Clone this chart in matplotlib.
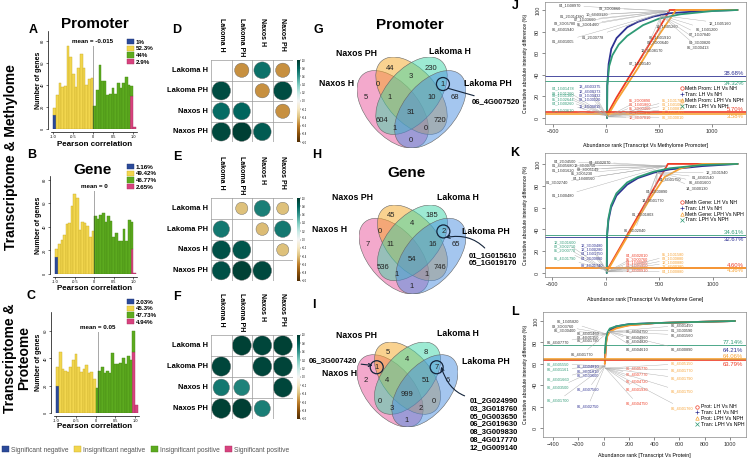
import numpy as np
import matplotlib
matplotlib.use("Agg")
import matplotlib.pyplot as plt
from matplotlib.patches import Ellipse, Circle, Patch
from matplotlib.lines import Line2D
from matplotlib.colors import Normalize

plt.rcParams['font.family'] = ['Liberation Sans', 'DejaVu Sans']

W, H = 747, 458

# ---------------- histograms (31 bins of 1/15 from -1) ----------------
cat_names = ['Significant negative', 'Insignificant negative', 'Insignificant positive', 'Significant positive']
cat_colors = ['#2b4a9a', '#f2d64e', '#5caa1f', '#d8427f']
cat_edges = ['#1d3370', '#c9ad2a', '#468a14', '#a8305f']

prom_sig_neg = [13] + [0] * 30
prom_insig_neg = [6, 31, 42, 38, 39, 75, 65, 50, 38, 55, 68, 55, 40, 45, 46] + [0] * 16
prom_insig_pos = [0] * 15 + [21, 35, 58, 44, 44, 31, 32, 37, 32, 42, 37, 42, 47, 40, 9, 0]
prom_sig_pos = [0] * 29 + [30, 2]
prom_pcts = ['1%', '52.3%', '44%', '2.9%']

gene_sig_neg = [14] + [0] * 30
gene_insig_neg = [7, 25, 29, 33, 42, 43, 58, 68, 64, 37, 44, 43, 41, 31, 36] + [0] * 16
gene_insig_pos = [0] * 15 + [49, 47, 50, 52, 44, 49, 45, 31, 35, 28, 28, 38, 28, 46, 23, 0]
gene_sig_pos = [0] * 29 + [21, 1]
gene_pcts = ['1.16%', '49.42%', '46.77%', '2.65%']

prot_sig_neg = [20] + [0] * 30
prot_insig_neg = [14, 45, 32, 31, 30, 34, 39, 43, 34, 30, 32, 35, 29, 30, 25] + [0] * 16
prot_insig_pos = [0] * 15 + [18, 31, 34, 29, 31, 29, 44, 36, 36, 37, 40, 36, 42, 39, 15, 0]
prot_sig_pos = [0] * 29 + [45, 6]
prot_pcts = ['2.03%', '45.3%', '47.73%', '4.94%']

means = [-0.015, 0, 0.05]
mean_labels = ['mean = -0.015', 'mean = 0', 'mean = 0.05']

# ---------------- correlation matrices ----------------
corr_labels = ['Lakoma H', 'Lakoma PH', 'Naxos H', 'Naxos PH']
nan = np.nan
corr_prom = [[nan, -0.55, 0.75, -0.55], [0.92, nan, -0.55, 0.92],
             [0.78, 0.8, nan, -0.55], [0.93, 0.98, 0.85, nan]]
corr_gene = [[nan, -0.4, 0.7, -0.4], [0.72, nan, -0.42, 0.72],
             [0.9, 0.88, nan, -0.4], [0.9, 0.97, 0.93, nan]]
corr_prot = [[nan, 0.97, 0.95, 0.97], [0.95, nan, 0.95, 0.96],
             [0.72, 0.68, nan, 0.95], [0.97, 0.98, 0.7, nan]]

# ---------------- venn counts ----------------
venn_sets = ['Naxos H', 'Naxos PH', 'Lakoma H', 'Lakoma PH']
venn_prom = [44, 230, 3, 0, 1, 5, 1, 10, 68, 31, 604, 720, 1, 0, 0]
venn_gene = [45, 185, 4, 0, 2, 7, 11, 16, 65, 54, 536, 746, 1, 1, 1]
venn_prot = [5, 8, 4, 1, 7, 2, 4, 51, 6, 999, 0, 0, 3, 2, 1]
prom_hit = ['06_4G007520']
gene_hit = ['01_1G015610', '05_1G019170']
prot_hit_left = ['06_3G007420']
prot_hit_right = ['01_2G024990', '03_3G018760', '05_0G003650', '06_2G019630',
                  '08_3G009830', '08_4G017770', '12_0G009140']

# ---------------- cumulative curves ----------------
j_rank_a = [10, 100, 200, 300, 400, 500, 600, 1240]
j_pct_a = [3, 19, 35, 51, 67, 83, 100, 100]
j_rank_b = [10, 12, 25, 50, 100, 200, 300, 450, 600, 900, 1240]
j_pct_b = [0, 30, 50, 64, 74, 84, 89, 94, 97, 99, 100]
j_rank_c = [10, 100, 200, 300, 400, 500, 660, 1240]
j_pct_c = [1, 16, 31, 46, 62, 77, 100, 100]
j_rank_d = [10, 12, 30, 60, 120, 200, 350, 500, 700, 1000, 1240]
j_pct_d = [0, 30, 48, 58, 68, 76, 86, 92, 96, 99, 100]
j_hlines = [5.70, 38.68, 3.58, 34.32]

k_rank_a = [10, 580, 1230]
k_pct_a = [2, 100, 100]
k_rank_b = [10, 12, 25, 50, 100, 200, 300, 450, 600, 900, 1230]
k_pct_b = [0, 33, 48, 60, 71, 81, 87, 92, 95, 98, 100]
k_rank_c = [10, 200, 400, 550, 700, 900, 1230]
k_pct_c = [1, 33, 66, 88, 96, 100, 100]
k_rank_d = [10, 12, 25, 50, 100, 200, 300, 450, 600, 900, 1230]
k_pct_d = [0, 35, 50, 62, 73, 83, 88, 93, 96, 99, 100]
k_hlines = [4.60, 32.67, 4.36, 34.61]

l_rank_a = [10, 20, 30, 50, 100, 200, 400, 700, 1040]
l_pct_a = [60, 80, 87, 91, 94, 96, 98, 99, 100]
l_rank_b = [10, 20, 30, 50, 100, 200, 400, 700, 1040]
l_pct_b = [62, 82, 88, 92, 95, 97, 98, 99, 100]
l_rank_c = [10, 20, 30, 50, 100, 200, 400, 700, 1040]
l_pct_c = [60, 79, 86, 90, 93, 96, 98, 99, 100]
l_rank_d = [10, 20, 30, 50, 100, 200, 400, 700, 1040]
l_pct_d = [70, 84, 89, 93, 95, 97, 98, 99, 100]
l_hlines = [63.79, 64.21, 64.06, 77.14]

j_legend = ['Meth Prom: LH Vs NH', 'Tran: LH Vs NH', 'Meth Prom: LPH Vs NPH', 'Tran: LPH Vs NPH']
k_legend = ['Meth Gene: LH Vs NH', 'Tran: LH Vs NH', 'Meth Gene: LPH Vs NPH', 'Tran: LPH Vs NPH']
l_legend = ['Prot: LH Vs NH', 'Tran: LH Vs NH', 'Prot: LPH Vs NPH', 'Tran: LPH Vs NPH']

# gene ids shown on the cumulative plots
j_ids_top = ['04_1G08970', '03_3G00860', '10_6G03120', '01_2G014380', '07_1G03660',
             '03_3G05780', '05_3G01460', '06_4G01940', '01_2G00778', '01_4G01005']
j_ids_right = ['14_1G05260', '12_1G05160', '06_1G01200', '07_1G07840', '06_1G01910',
               '04_3G00820', '03_3G00640', '06_3G00413', '12_3G08170', '07_1G00140']
j_ids_teal = ['04_1G01478', '09_1G01260', '09_1G01360', '05_1G02644', '04_1G00260', '07_1G03610']
j_ids_navy = ['13_4G03375', '12_4G00373', '08_1G00432', '08_1G00520', '11_4G00815']
j_ids_red = ['05_2G00890', '01_1G01860', '05_3G00460', '01_1G00070', '12_3G07010']
j_ids_orange = ['05_1G01783', '01_1G01002', '12_1G00810', '01_1G01400', '06_3G00010']

k_ids_top = ['04_2G04500', '04_4G02070', '13_3G00750', '01_4G05680', '01_1G01620',
             '08_3G05149', '05_3G05230', '04_1G00560', '01_3G02740', '01_1G00480']
k_ids_right = ['12_3G01940', '01_4G01540', '04_4G01750', '06_4G01600', '14_3G00130',
               '04_2G00890', '14_3G01770', '01_3G01803', '06_3G02040']
k_ids_teal = ['12_3G01600', '02_3G02710', '05_2G00770', '05_4G01790']
k_ids_navy = ['12_3G00480', '12_1G00280', '04_1G01750', '04_3G00900', '09_4G01740']
k_ids_red = ['04_4G02010', '05_3G00760', '04_1G00800', '04_1G01950', '12_4G00910']
k_ids_orange = ['05_1G01580', '03_1G00880', '12_1G00880', '12_4G00380', '04_1G00880']

l_ids_top = ['06_1G05820', '08_3G03760', '06_3G00400', '06_4G01460', '08_4G01350',
             '06_4G01790', '06_4G07770', '06_4G01770']
l_ids_right = ['06_4G04750', '06_4G04960', '06_4G04820', '06_4G04610',
               '06_4G01490', '01_3G00590', '06_4G01560', '06_4G00890']
l_ids_teal = ['06_4G05550', '06_4G01161', '06_4G01660', '06_4G03500', '06_4G01700']
l_ids_navy = ['06_4G04810', '06_3G01810', '06_3G03600', '06_4G07560', '06_4G02750']
l_ids_red = ['06_4G05770', '06_4G07770', '06_4G04720', '06_4G01930', '06_4G04750']
l_ids_orange = ['06_4G05150', '06_4G01770', '06_4G01790', '06_4G01750', '06_4G01760']


def fr(l, t, r, b):
    return [l / W, 1 - b / H, (r - l) / W, (b - t) / H]


def fp(x, y):
    return (x / W, 1 - y / H)


fig = plt.figure(figsize=(W / 100, H / 100), dpi=100)

# ---------- big row labels ----------
fig.text(*fp(11, 157), 'Transcriptome & Methylome', rotation=90, ha='center', va='center',
         fontsize=10, weight='bold')
fig.text(*fp(17, 358), 'Transcriptome &\nProteome', rotation=90, ha='center', va='center',
         fontsize=10, weight='bold', linespacing=1.0)

# ---------- histograms ----------
hist_boxes = [(51, 31, 137, 129), (53, 176, 137, 274), (54, 312, 139, 413)]
hist_data = [(prom_sig_neg, prom_insig_neg, prom_insig_pos, prom_sig_pos),
             (gene_sig_neg, gene_insig_neg, gene_insig_pos, gene_sig_pos),
             (prot_sig_neg, prot_insig_neg, prot_insig_pos, prot_sig_pos)]
hist_ymax = [89, 83, 74]
hist_meantop = [75, 70, 59]
hist_pcts = [prom_pcts, gene_pcts, prot_pcts]
hist_leg_xy = [(127, 39), (127, 164), (127, 299)]
hist_titles = [('Promoter', 95, 24), ('Gene', 93, 170), ('', 0, 0)]
hist_xlab_y = [145, 289, 427]
bin_left = -1 + np.arange(31) / 15

for box, stacks, ymax, mtop, m, mlab, pcts, lxy, (ttl, tx, ty), xly in zip(
        hist_boxes, hist_data, hist_ymax, hist_meantop, means, mean_labels,
        hist_pcts, hist_leg_xy, hist_titles, hist_xlab_y):
    ax = fig.add_axes(fr(*box))
    bottom = np.zeros(31)
    for k in [0, 1, 3, 2]:
        vals = np.array(stacks[k], float)
        ok = vals > 0
        ax.bar(bin_left[ok], vals[ok], width=1 / 15, align='edge', bottom=bottom[ok],
               color=cat_colors[k], edgecolor=cat_edges[k], linewidth=0.3)
        bottom += vals
    ax.set_xlim(-1.06, 1.1)
    ax.set_ylim(0, ymax)
    ax.plot([m, m], [0, mtop], ls=(0, (1.2, 1.2)), color='#333333', lw=0.6)
    ax.text(m, mtop + 2, mlab, ha='center', va='bottom', fontsize=4.5, weight='bold')
    for s in ['top', 'right']:
        ax.spines[s].set_visible(False)
    for s in ['left', 'bottom']:
        ax.spines[s].set_linewidth(0.5)
        ax.spines[s].set_position(('outward', 2))
    ax.set_xticks([-1, -0.5, 0, 0.5, 1])
    ax.set_xticklabels(['-1.0', '-0.5', '0', '0.5', '1.0'])
    ax.set_yticks([0, 20, 40, 60, 80] if ymax > 80 else [0, 20, 40, 60])
    ax.tick_params(labelsize=2.8, length=1.5, width=0.4, pad=1)
    for t in ax.get_yticklabels():
        t.set_rotation(90)
        t.set_va('center')
    handles = [Patch(fc=c, ec=e, lw=0.3) for c, e in zip(cat_colors, cat_edges)]
    fig.legend(handles, pcts, loc='upper left', bbox_to_anchor=fp(*lxy), frameon=False,
               prop={'size': 4.5, 'weight': 'bold'}, handlelength=1.1, handleheight=0.9,
               handletextpad=0.3, labelspacing=0.15, borderaxespad=0, borderpad=0)
    if ttl:
        fig.text(*fp(tx, ty), ttl, ha='center', va='center', fontsize=11, weight='bold')
    fig.text(*fp(95, xly), 'Pearson correlation', ha='center', va='center', fontsize=5.8, weight='bold')
    fig.text(*fp(38, (box[1] + box[3]) / 2), 'Number of genes', rotation=90, ha='center',
             va='center', fontsize=5, weight='bold')

fig.legend([Patch(fc=c, ec=e, lw=0.3) for c, e in zip(cat_colors, cat_edges)], cat_names,
           loc='center left', bbox_to_anchor=fp(2, 450), ncol=4, frameon=False, fontsize=4.8,
           handlelength=1.0, handleheight=0.9, handletextpad=0.3, columnspacing=0.9,
           labelcolor='#555555', borderaxespad=0, borderpad=0)

# ---------- correlation matrices ----------
cmap = plt.get_cmap('BrBG')
norm = Normalize(-1, 1)
corr_boxes = [(211, 60, 293, 142), (211, 198, 293, 281), (211, 335, 293, 419)]
for box, mat in zip(corr_boxes, [corr_prom, corr_gene, corr_prot]):
    ax = fig.add_axes(fr(*box))
    ax.set_xlim(0, 4)
    ax.set_ylim(4, 0)
    ax.axis('off')
    for i in range(5):
        ax.plot([0, 4], [i, i], color='#9a9a9a', lw=0.5)
        ax.plot([i, i], [0, 4], color='#9a9a9a', lw=0.5)
    for i in range(4):
        for j in range(4):
            v = mat[i][j]
            if np.isnan(v):
                continue
            ax.add_patch(Circle((j + 0.5, i + 0.5), 0.47 * np.sqrt(abs(v)),
                                fc=cmap(norm(v)), ec='#666666', lw=0.3))
    l, t, r, b = box
    cell = (r - l) / 4
    for i, name in enumerate(corr_labels):
        fig.text(*fp(l - 3, t + (i + 0.5) * (b - t) / 4), name, ha='right', va='center',
                 fontsize=5.4, weight='bold')
        fig.text(*fp(l + (i + 0.5) * cell, t - 42), name, ha='center', va='top',
                 rotation=-90, fontsize=5.0, weight='bold')
    cax = fig.add_axes(fr(r + 4, t, r + 7, b))
    cax.imshow(np.linspace(1, -1, 100)[:, None], cmap=cmap, norm=norm, aspect='auto',
               extent=[0, 1, -1, 1])
    cax.set_xticks([])
    cax.yaxis.tick_right()
    cax.set_yticks(np.round(np.arange(-1, 1.01, 0.2), 1))
    cax.tick_params(labelsize=1.8, length=1, width=0.3, pad=0.5)
    for s in cax.spines.values():
        s.set_visible(False)

# ---------- venn diagrams ----------
venn_pos = [(0.328, 0.774), (0.658, 0.774), (0.493, 0.715), (0.235, 0.656), (0.751, 0.656),
            (0.137, 0.555), (0.323, 0.555), (0.663, 0.555), (0.849, 0.555), (0.493, 0.445),
            (0.262, 0.386), (0.724, 0.386), (0.368, 0.330), (0.618, 0.330), (0.493, 0.239)]
venn_shapes = [((0.35, 0.47), -45), ((0.5, 0.57), -45), ((0.5, 0.57), 45), ((0.65, 0.47), 45)]
venn_colors = ['#e8559a', '#f5a623', '#3cd6a8', '#4a8ee0']
venn_boxes = [(357, 57, 466, 148), (359, 205, 466, 294), (357, 342, 458, 427)]
venn_label_xy = [
    [(337, 83), (357, 54), (450, 51), (488, 83)],
    [(330, 230), (353, 198), (458, 198), (486, 232)],
    [(340, 373), (357, 335), (458, 334), (486, 362)],
]
venn_axes = []
for box, counts, labs, circled in zip(venn_boxes, [venn_prom, venn_gene, venn_prot],
                                      venn_label_xy, [[4], [4], [3, 4]]):
    ax = fig.add_axes(fr(*box))
    ax.set_xlim(0.065, 0.935)
    ax.set_ylim(0.185, 0.855)
    ax.axis('off')
    for (c, ang), col in zip(venn_shapes, venn_colors):
        ax.add_patch(Ellipse(c, 0.7, 0.4, angle=ang, fc=col, alpha=0.5, ec='none'))
        ax.add_patch(Ellipse(c, 0.7, 0.4, angle=ang, fc='none', ec='#666666', lw=0.4))
    for (x, y), n in zip(venn_pos, counts):
        ax.text(x, y, str(n), ha='center', va='center', fontsize=5.5, color='#222222')
    sx = (box[2] - box[0]) / 0.87
    sy = (box[3] - box[1]) / 0.67
    for k in circled:
        ax.add_patch(Ellipse(venn_pos[k], 13 / sx, 13 / sy, fc='none', ec='#14243a', lw=0.9))
    for name, (x, y) in zip(venn_sets, labs):
        fig.text(*fp(x, y), name, ha='center', va='center', fontsize=6.3, weight='bold')
    venn_axes.append(ax)

fig.text(*fp(410, 25), 'Promoter', ha='center', va='center', fontsize=11, weight='bold')
fig.text(*fp(407, 173), 'Gene', ha='center', va='center', fontsize=11, weight='bold')

ax = venn_axes[0]
ax.annotate(prom_hit[0], xy=(0.79, 0.625), xytext=fp(472, 102), textcoords='figure fraction',
            ha='left', va='center', fontsize=5.5, weight='bold',
            arrowprops=dict(arrowstyle='-', color='#14243a', lw=0.8, shrinkA=0, shrinkB=0))
ax = venn_axes[1]
ax.annotate('\n'.join(gene_hit), xy=(0.77, 0.61), xytext=fp(469, 259), textcoords='figure fraction',
            ha='left', va='center', fontsize=5.5, weight='bold', linespacing=1.1,
            arrowprops=dict(arrowstyle='->', color='#14243a', lw=0.8, shrinkA=1, shrinkB=0,
                            connectionstyle='arc3,rad=0.35'))
ax = venn_axes[2]
ax.annotate(prot_hit_left[0], xy=(0.2, 0.67), xytext=fp(357, 361), textcoords='figure fraction',
            ha='right', va='center', fontsize=5.5, weight='bold',
            arrowprops=dict(arrowstyle='->', color='#14243a', lw=0.8, shrinkA=1, shrinkB=0))
ax.annotate('\n'.join(prot_hit_right), xy=(0.79, 0.66), xytext=fp(470, 424), textcoords='figure fraction',
            ha='left', va='center', fontsize=5.5, weight='bold', linespacing=1.15,
            arrowprops=dict(arrowstyle='->', color='#14243a', lw=0.8, shrinkA=2, shrinkB=0,
                            connectionstyle='arc3,rad=-0.45', relpos=(0.45, 1.0)))

# ---------- cumulative difference panels ----------
c_red, c_navy, c_orange, c_teal = '#ee3b24', '#2e3192', '#f7a234', '#2f9a76'
line_colors = [c_red, c_navy, c_orange, c_teal]
markers = ['o', '+', '^', 'x']

cum_panels = [
    dict(box=(545, 2, 746, 124), xlim=(-575, 1320), ylim=(-5.6, 107.4), xticks=[-500, 0, 500, 1000],
         curves=[(j_rank_a, j_pct_a), (j_rank_b, j_pct_b), (j_rank_c, j_pct_c), (j_rank_d, j_pct_d)],
         hl=j_hlines, legend=j_legend, leg_xy=(0.67, 0.31),
         pct_y=[(5.70, 'bottom'), (38.68, 'bottom'), (3.58, 'top'), (34.32, 'top')],
         xlabel='Abundance rank [Transcript Vs Methylome Promoter]', xlab_y=145,
         groups=[
             (j_ids_top, [(-340, 104), (38, 101.5), (-85, 96), (-320, 94.5), (-200, 91),
                          (-385, 88), (-170, 87), (-400, 82), (-120, 75), (-400, 71)],
              '#333333', (590, 99)),
             (j_ids_right, [(575, 85), (1075, 88), (950, 82), (890, 77), (510, 75),
                            (890, 70), (490, 70), (870, 65), (430, 63), (320, 51)],
              '#333333', (520, 95)),
             (j_ids_teal, [(-400, 27), (-400, 23), (-400, 20.5), (-400, 17.5), (-400, 13.6), (-400, 7.4)],
              c_teal, (10, 2)),
             (j_ids_navy, [(-150, 29), (-150, 25), (-150, 21), (-150, 17), (-150, 10.5)],
              c_navy, (10, 2)),
             (j_ids_red, [(320, 16.7), (320, 13), (320, 9), (320, 5), (320, 0.6)], c_red, (10, 1)),
             (j_ids_orange, [(632, 16.7), (632, 13), (632, 9), (632, 5), (632, 0.6)], c_orange, (10, 1)),
         ]),
    dict(box=(545, 153, 746, 277), xlim=(-566, 1308), ylim=(-3.7, 110), xticks=[-500, 0, 500, 1000],
         curves=[(k_rank_a, k_pct_a), (k_rank_b, k_pct_b), (k_rank_c, k_pct_c), (k_rank_d, k_pct_d)],
         hl=k_hlines, legend=k_legend, leg_xy=(0.67, 0.62),
         pct_y=[(4.60, 'bottom'), (32.67, 'top'), (4.36, 'top'), (34.61, 'bottom')],
         xlabel='Abundance rank [Transcript Vs Methylome Gene]', xlab_y=300,
         groups=[
             (k_ids_top, [(-383, 102), (-56, 101.6), (-196, 99), (-400, 98.5), (-400, 94.5),
                          (-168, 95.4), (-224, 91.7), (-200, 86.7), (-450, 83), (-400, 70.7)],
              '#333333', (560, 98)),
             (k_ids_right, [(1040, 92), (910, 87.6), (600, 85.5), (880, 83), (850, 77.5),
                            (475, 75), (440, 67), (345, 54), (270, 39)],
              '#333333', (480, 92)),
             (k_ids_teal, [(-380, 28.4), (-380, 24), (-380, 20.6), (-380, 13.6)], c_teal, (10, 2)),
             (k_ids_navy, [(-130, 25), (-130, 22), (-130, 18), (-130, 13), (-130, 7.4)], c_navy, (10, 2)),
             (k_ids_red, [(290, 15.7), (290, 12.8), (290, 9.9), (290, 6.5), (290, 2)], c_red, (10, 1)),
             (k_ids_orange, [(630, 16.7), (630, 13), (630, 9.9), (630, 6.2), (630, 1.2)], c_orange, (10, 1)),
         ]),
    dict(box=(543, 312, 746, 437), xlim=(-479, 1127), ylim=(-8.4, 108.4),
         xticks=[-400, -200, 0, 200, 400, 600, 800, 1000],
         curves=[(l_rank_a, l_pct_a), (l_rank_b, l_pct_b), (l_rank_c, l_pct_c), (l_rank_d, l_pct_d)],
         hl=l_hlines, legend=l_legend, leg_xy=(0.75, 0.26),
         pct_y=[(59.8, 'center'), (72, 'center'), (66.6, 'center'), (78, 'bottom')],
         xlabel='Abundance rank [Transcript Vs Protein]', xlab_y=455,
         groups=[
             (l_ids_top, [(-281, 99.4), (-320, 95), (-305, 91), (-123, 88), (-123, 85),
                          (-123, 81.6), (-360, 80), (-170, 69)], '#333333', (20, 88)),
             (l_ids_right, [(264, 90), (264, 84.8), (264, 80.7), (264, 73.5),
                            (620, 96), (620, 91.6), (620, 87), (620, 73.5)], '#333333', (40, 90)),
             (l_ids_teal, [(-360, 59.8), (-360, 54.8), (-360, 45.8), (-360, 38), (-360, 25.5)],
              c_teal, (12, 58)),
             (l_ids_navy, [(-123, 58), (-123, 53), (-123, 49.5), (-123, 36), (-123, 20.6)],
              c_navy, (12, 58)),
             (l_ids_red, [(264, 55.8), (264, 50.5), (264, 44), (264, 36), (264, 23)], c_red, (14, 56)),
             (l_ids_orange, [(620, 60), (620, 54), (620, 46.4), (620, 34), (620, 18.4)], c_orange, (14, 56)),
         ]),
]

for p in cum_panels:
    ax = fig.add_axes(fr(*p['box']))
    ax.set_xlim(*p['xlim'])
    ax.set_ylim(*p['ylim'])
    for s in ax.spines.values():
        s.set_linewidth(0.5)
        s.set_color('#888888')
    for ids, pos, col, anc in p['groups']:
        for gid, (x, y) in zip(ids, pos):
            ax.annotate(gid, xy=anc, xytext=(x, y), fontsize=2.8, color=col, ha='center', va='center',
                        arrowprops=dict(arrowstyle='-', color='#aaaaaa', lw=0.3, shrinkA=0, shrinkB=0))
    for (rk, pc), col in zip(p['curves'], line_colors):
        ax.plot(rk, pc, color=col, lw=1.3, solid_capstyle='round')
    for val, col, (ty, va) in zip(p['hl'], line_colors, p['pct_y']):
        ax.axhline(val, color=col, lw=1.2 if col in (c_red, c_orange) else 0.6)
        ax.text(p['xlim'][1] - 20, ty, f'{val:.2f}%', color=col, fontsize=4.3, ha='right', va=va)
    handles = [Line2D([], [], color=c, marker=m, ls='none', ms=2.5, mew=0.5, mfc='none')
               for c, m in zip(line_colors, markers)]
    ax.legend(handles, p['legend'], loc='upper left', bbox_to_anchor=p['leg_xy'], frameon=False,
              fontsize=3.8, handlelength=0.8, handletextpad=0.3, labelspacing=0.15,
              borderaxespad=0, borderpad=0)
    ax.set_xticks(p['xticks'])
    ax.set_yticks([0, 20, 40, 60, 80, 100])
    ax.tick_params(labelsize=4, length=2, width=0.4, pad=1.5, colors='#333333')
    for t in ax.get_yticklabels():
        t.set_rotation(90)
        t.set_va('center')
    l, t_, r, b = p['box']
    fig.text(*fp((l + r) / 2, p['xlab_y']), p['xlabel'], ha='center', va='center', fontsize=3.8)
    fig.text(*fp(526, (t_ + b) / 2), 'Cumulative absolute intensity difference (%)', rotation=90,
             ha='center', va='center', fontsize=3.6)

# ---------- panel letters ----------
letters = [('A', 33, 30), ('B', 32, 155), ('C', 31, 296), ('D', 177, 30), ('E', 177, 157),
           ('F', 177, 297), ('G', 318, 30), ('H', 317, 155), ('I', 314, 305), ('J', 515, 6),
           ('K', 515, 153), ('L', 515, 312)]
for s, x, y in letters:
    fig.text(*fp(x, y), s, ha='center', va='center', fontsize=9, weight='bold')

fig.savefig('out.png', dpi=100, facecolor='white')
